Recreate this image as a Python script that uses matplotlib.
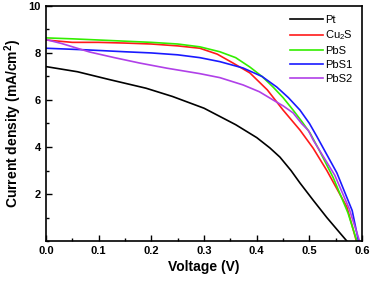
import matplotlib
matplotlib.use("Agg")
import matplotlib.pyplot as plt
from matplotlib.ticker import MultipleLocator

plt.rcParams["font.family"] = ["Liberation Sans", "DejaVu Sans"]
plt.rcParams["mathtext.fontset"] = "custom"
plt.rcParams["mathtext.rm"] = "Liberation Sans"
plt.rcParams["mathtext.bf"] = "Liberation Sans:bold"

# ── J-V curves ──────────────────────────────────────────────────────────────
pt_v = [0.0, 0.06, 0.12, 0.19, 0.24, 0.3, 0.36, 0.4, 0.425, 0.444, 0.465, 0.482, 0.507, 0.533, 0.558, 0.571]
pt_j = [7.42, 7.2, 6.87, 6.5, 6.15, 5.65, 4.95, 4.4, 3.96, 3.57, 3.0, 2.47, 1.74, 1.0, 0.34, 0.0]

cu2s_v = [0.0, 0.05, 0.1, 0.15, 0.2, 0.25, 0.292, 0.325, 0.355, 0.387, 0.42, 0.45, 0.482, 0.507, 0.533, 0.571, 0.589]
cu2s_j = [8.55, 8.45, 8.45, 8.42, 8.38, 8.3, 8.2, 7.95, 7.57, 7.15, 6.43, 5.57, 4.72, 3.95, 3.0, 1.45, 0.0]

pbs_v = [0.0, 0.05, 0.1, 0.15, 0.2, 0.25, 0.292, 0.33, 0.36, 0.387, 0.41, 0.431, 0.45, 0.469, 0.485,
         0.501, 0.52, 0.545, 0.573, 0.59]
pbs_j = [8.64, 8.6, 8.55, 8.5, 8.45, 8.38, 8.26, 8.05, 7.8, 7.4, 7.0, 6.55, 6.1, 5.57, 5.1,
         4.6, 3.8, 2.7, 1.2, 0.0]

pbs1_v = [0.0, 0.078, 0.15, 0.2, 0.25, 0.292, 0.33, 0.374, 0.41, 0.438, 0.46, 0.482, 0.5, 0.514,
          0.526, 0.552, 0.581, 0.593]
pbs1_j = [8.2, 8.13, 8.05, 8.0, 7.92, 7.8, 7.63, 7.36, 7.0, 6.55, 6.1, 5.57, 5.0, 4.45,
          3.96, 2.9, 1.3, 0.0]

pbs2_v = [0.0, 0.03, 0.083, 0.13, 0.178, 0.23, 0.292, 0.33, 0.374, 0.405, 0.431, 0.45, 0.469, 0.485,
          0.498, 0.507, 0.548, 0.575, 0.595]
pbs2_j = [8.57, 8.4, 8.04, 7.8, 7.57, 7.35, 7.12, 6.95, 6.64, 6.35, 6.0, 5.75, 5.45, 5.0,
          4.7, 4.3, 2.8, 1.4, 0.0]

series = [
    ("Pt", pt_v, pt_j, "#000000"),
    ("Cu$_2$S", cu2s_v, cu2s_j, "#ff1a1a"),
    ("PbS", pbs_v, pbs_j, "#33ee00"),
    ("PbS1", pbs1_v, pbs1_j, "#1a1aff"),
    ("PbS2", pbs2_v, pbs2_j, "#b040e8"),
]

fig = plt.figure(figsize=(3.73, 2.81), dpi=100)
ax = fig.add_axes([0.123, 0.142, 0.848, 0.837])

for name, v, j, c in series:
    ax.plot(v, j, color=c, lw=1.2, label=name)

ax.set_xlim(0, 0.6)
ax.set_ylim(0, 10)
ax.xaxis.set_major_locator(MultipleLocator(0.1))
ax.xaxis.set_minor_locator(MultipleLocator(0.05))
ax.set_yticks([2, 4, 6, 8, 10])
ax.yaxis.set_minor_locator(MultipleLocator(1))
ax.tick_params(which="both", direction="in", top=False, right=False, labelsize=8, width=1)
ax.tick_params(which="major", length=4)
ax.tick_params(which="minor", length=2)
for lbl in ax.get_xticklabels() + ax.get_yticklabels():
    lbl.set_fontweight("bold")
for s in ax.spines.values():
    s.set_linewidth(1.2)

ax.set_xlabel("Voltage (V)", fontsize=10, fontweight="bold", labelpad=3)
ax.set_ylabel("Current density (mA/cm$^\\mathbf{2}$)", fontsize=10, fontweight="bold", labelpad=3)

ax.legend(loc="upper right", frameon=False, fontsize=8, handlelength=3.0,
          handletextpad=0.2, labelspacing=0.35, borderaxespad=0.4)

fig.savefig("out.png", dpi=100)
